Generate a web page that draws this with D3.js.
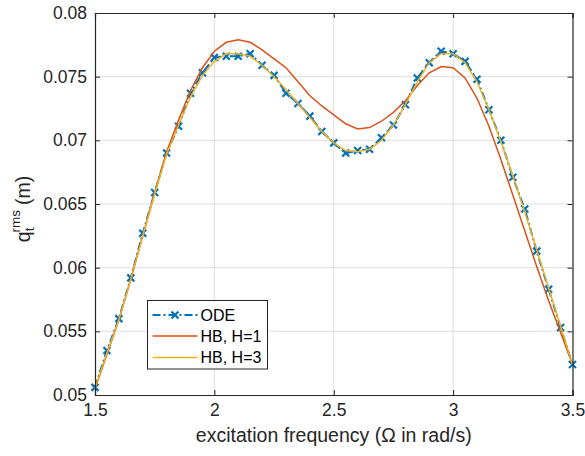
<!DOCTYPE html>
<html>
<head>
<meta charset="utf-8">
<script src="https://cdn.jsdelivr.net/npm/d3@7"></script>
<style>
  body { margin: 0; background: #fff; }
  text { font-family: "Liberation Sans", Arial, sans-serif; }
</style>
</head>
<body>
<div id="chart"></div>
<script>
// Frekvence (Omega v rad/s)
const freq = [1.5, 1.55, 1.6, 1.65, 1.7, 1.75, 1.8, 1.85, 1.9, 1.95,
              2.0, 2.05, 2.1, 2.15, 2.2, 2.25, 2.3, 2.35, 2.4, 2.45,
              2.5, 2.55, 2.6, 2.65, 2.7, 2.75, 2.8, 2.85, 2.9, 2.95,
              3.0, 3.05, 3.1, 3.15, 3.2, 3.25, 3.3, 3.35, 3.4, 3.45, 3.5];

const odeValues = [0.0506, 0.0535, 0.0560, 0.0592, 0.0627, 0.0659, 0.0690, 0.0711, 0.0737, 0.0753,
                   0.0765, 0.0766, 0.0766, 0.0768, 0.0759, 0.0751, 0.0737, 0.0729, 0.0719, 0.0707,
                   0.0698, 0.0690, 0.0692, 0.0693, 0.0702, 0.0712, 0.0728, 0.0749, 0.0761, 0.0770,
                   0.0768, 0.0762, 0.0748, 0.0724, 0.0700, 0.0671, 0.0646, 0.0613, 0.0583, 0.0553, 0.0524];

const hb1Values = [0.0505, 0.0532, 0.0559, 0.0591, 0.0625, 0.0659, 0.0691, 0.0716, 0.0739, 0.0757,
                   0.0770, 0.0777, 0.0779, 0.0777, 0.0771, 0.0764, 0.0757, 0.0746, 0.0735, 0.0727,
                   0.0720, 0.0713, 0.0709, 0.0710, 0.0715, 0.0722, 0.0731, 0.0743, 0.0753, 0.0758,
                   0.0757, 0.0749, 0.0733, 0.0711, 0.0685, 0.0657, 0.0629, 0.0601, 0.0574, 0.0549, 0.0524];

const hb3Values = [0.0505, 0.0533, 0.0559, 0.0591, 0.0625, 0.0658, 0.0689, 0.0712, 0.0734, 0.0751,
                   0.0762, 0.0768, 0.0768, 0.0766, 0.0759, 0.0750, 0.0740, 0.0729, 0.0718, 0.0707,
                   0.0698, 0.0692, 0.0691, 0.0693, 0.0700, 0.0712, 0.0728, 0.0746, 0.0761, 0.0768,
                   0.0768, 0.0761, 0.0746, 0.0724, 0.0699, 0.0672, 0.0644, 0.0614, 0.0584, 0.0554, 0.0524];

const xTicks = [1.5, 2, 2.5, 3, 3.5];
const yTicks = [0.05, 0.055, 0.06, 0.065, 0.07, 0.075, 0.08];
const seriesNames = ["ODE", "HB, H=1", "HB, H=3"];

const width = 585;
const height = 456;
const margin = { top: 13, right: 12.5, bottom: 61, left: 95 };

const svg = d3.select("#chart")
    .append("svg")
    .attr("width", width)
    .attr("height", height);

const xScale = d3.scaleLinear()
    .domain([1.5, 3.5])
    .range([margin.left, width - margin.right]);

const yScale = d3.scaleLinear()
    .domain([0.05, 0.08])
    .range([height - margin.bottom, margin.top]);

const axisColor = "#262626";

// Mreža
svg.append("g")
    .selectAll("line")
    .data(xTicks.slice(1, -1))
    .enter()
    .append("line")
    .attr("x1", d => xScale(d)).attr("x2", d => xScale(d))
    .attr("y1", margin.top).attr("y2", height - margin.bottom)
    .attr("stroke", "#dfdfdf").attr("stroke-width", 1);

svg.append("g")
    .selectAll("line")
    .data(yTicks.slice(1, -1))
    .enter()
    .append("line")
    .attr("x1", margin.left).attr("x2", width - margin.right)
    .attr("y1", d => yScale(d)).attr("y2", d => yScale(d))
    .attr("stroke", "#dfdfdf").attr("stroke-width", 1);

// Črte
const line = vals => d3.line()
    .x((d, i) => xScale(freq[i]))
    .y(d => yScale(d))(vals);

svg.append("path")
    .attr("d", line(odeValues))
    .attr("fill", "none")
    .attr("stroke", "#0072BD")
    .attr("stroke-width", 2)
    .attr("stroke-dasharray", "8,3,2,3");

const cross = (x, y, s) => `M${x - s},${y - s}L${x + s},${y + s}M${x - s},${y + s}L${x + s},${y - s}`;

svg.append("g")
    .selectAll("path")
    .data(odeValues)
    .enter()
    .append("path")
    .attr("d", (d, i) => cross(xScale(freq[i]), yScale(d), 3.5))
    .attr("stroke", "#0072BD")
    .attr("stroke-width", 2.2)
    .attr("fill", "none");

svg.append("path")
    .attr("d", line(hb1Values))
    .attr("fill", "none")
    .attr("stroke", "#D95319")
    .attr("stroke-width", 1.5);

svg.append("path")
    .attr("d", line(hb3Values))
    .attr("fill", "none")
    .attr("stroke", "#EDB120")
    .attr("stroke-width", 1.5);

// Osi
const xAxisBottom = svg.append("g")
    .attr("transform", `translate(0,${height - margin.bottom})`)
    .call(d3.axisBottom(xScale).tickValues(xTicks).tickSize(-5).tickPadding(9).tickFormat(d3.format("")));

const xAxisTop = svg.append("g")
    .attr("transform", `translate(0,${margin.top})`)
    .call(d3.axisTop(xScale).tickValues(xTicks).tickSize(-5).tickFormat(""));

const yAxisLeft = svg.append("g")
    .attr("transform", `translate(${margin.left},0)`)
    .call(d3.axisLeft(yScale).tickValues(yTicks).tickSize(-5).tickPadding(8).tickFormat(d3.format("")));

const yAxisRight = svg.append("g")
    .attr("transform", `translate(${width - margin.right},0)`)
    .call(d3.axisRight(yScale).tickValues(yTicks).tickSize(-5).tickFormat(""));

[xAxisBottom, xAxisTop, yAxisLeft, yAxisRight].forEach(g => {
    g.select(".domain").attr("stroke", axisColor).attr("stroke-width", 1.2);
    g.selectAll(".tick line").attr("stroke", axisColor);
    g.selectAll("text")
        .attr("fill", axisColor)
        .style("font-size", "17.5px")
        .style("font-family", "'Liberation Sans', Arial, sans-serif");
});

// Naslovi osi
svg.append("text")
    .attr("x", (margin.left + width - margin.right) / 2)
    .attr("y", 442)
    .attr("text-anchor", "middle")
    .attr("fill", axisColor)
    .style("font-size", "19.5px")
    .text("excitation frequency (Ω in rad/s)");

const yLabel = svg.append("text")
    .attr("transform", `translate(30,${(margin.top + height - margin.bottom) / 2 + 5}) rotate(-90)`)
    .attr("text-anchor", "middle")
    .attr("fill", axisColor)
    .style("font-size", "19.5px");
yLabel.append("tspan").text("q");
yLabel.append("tspan").attr("dy", 4).style("font-size", "13.5px").text("t");
yLabel.append("tspan").attr("dx", -5).attr("dy", -14).style("font-size", "13.5px").text("rms");
yLabel.append("tspan").attr("dx", 5).attr("dy", 10).text("(m)");

// Legenda
const legend = svg.append("g").attr("transform", "translate(147.5,300.5)");
legend.append("rect")
    .attr("width", 120).attr("height", 68.5)
    .attr("fill", "#fff")
    .attr("stroke", axisColor)
    .attr("stroke-width", 1);

const legendY = [14.5, 35.5, 57];
const legendStyles = [
    { color: "#0072BD", w: 2, dash: "8,3,2,3" },
    { color: "#D95319", w: 1.5, dash: null },
    { color: "#EDB120", w: 1.5, dash: null }
];

seriesNames.forEach((name, i) => {
    legend.append("line")
        .attr("x1", 5).attr("x2", 50)
        .attr("y1", legendY[i]).attr("y2", legendY[i])
        .attr("stroke", legendStyles[i].color)
        .attr("stroke-width", legendStyles[i].w)
        .attr("stroke-dasharray", legendStyles[i].dash);
    if (i === 0) {
        legend.append("path")
            .attr("d", cross(27.5, legendY[i], 3.5))
            .attr("stroke", "#0072BD")
            .attr("stroke-width", 2.2);
    }
    legend.append("text")
        .attr("x", 53)
        .attr("y", legendY[i] + 5.5)
        .attr("fill", "#000")
        .style("font-size", "16px")
        .text(name);
});
</script>
</body>
</html>
